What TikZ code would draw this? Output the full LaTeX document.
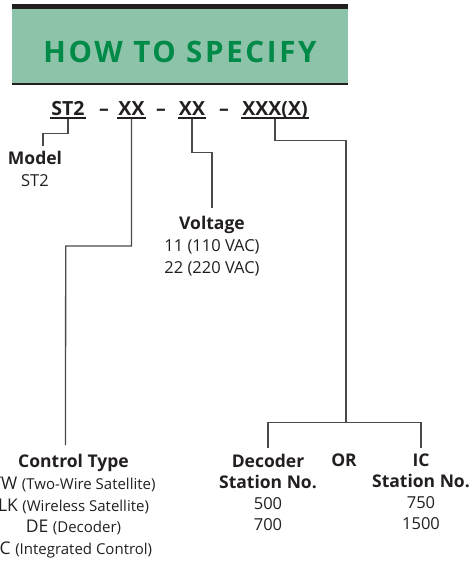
\documentclass[tikz,border=0pt]{standalone}
\usepackage{fontspec}
\setmainfont{Open Sans}
\usetikzlibrary{positioning, calc}
\definecolor{specgreen}{HTML}{8CC3A9}
\definecolor{spectitle}{HTML}{008A48}
\definecolor{specline}{HTML}{4A4A4A}
\definecolor{spectext}{HTML}{231F20}
\newcommand{\headfont}{\fontsize{17.5}{22}\selectfont\bfseries}
\newcommand{\descfont}{\fontsize{15}{21.75}\selectfont}
\tikzset{
    codepart/.style={font=\fontsize{19.5}{20}\selectfont\bfseries, text=spectext, inner xsep=1pt, inner ysep=4pt, text depth=0pt, anchor=base},
    dashpart/.style={font=\fontsize{19.5}{20}\selectfont\bfseries, text=spectext, inner sep=0pt, anchor=base},
    uline/.style={line width=2pt, spectext},
    conn/.style={line width=1.3pt, specline},
    label_block/.style={align=center, inner sep=0pt, anchor=north, text=spectext, font=\fontsize{16.5}{22}\selectfont}
}
\begin{document}
\begin{tikzpicture}[x=1pt, y=-1pt]
    \useasboundingbox (0,0) rectangle (473,562);

    % Header
    \fill[specgreen] (12,9) rectangle (348,83);
    \fill[spectext] (12,4) rectangle (348,9);
    \fill[spectext] (12,82.5) rectangle (348,85);
    \node[font=\fontsize{29.5}{30}\selectfont\bfseries\addfontfeature{LetterSpace=9}, text=spectitle, anchor=base] (title) at (180,62) {HOW TO SPECIFY};

    % Model code
    \node[codepart] (cST) at (68,115) {ST2};
    \node[dashpart] (d1) at (104,115) {--};
    \node[codepart] (cCT) at (131.5,115) {XX};
    \node[dashpart] (d2) at (161,115) {--};
    \node[codepart] (cV) at (192,115) {XX};
    \node[dashpart] (d3) at (224,115) {--};
    \node[codepart] (cSN) at (275,115) {XXX(X)};
    \foreach \c in {cST, cCT, cV, cSN}
        \draw[uline] ([yshift=1pt]\c.south west) -- ([yshift=1pt]\c.south east);

    % Labels
    \node[label_block] (model) at (35,151) {{\headfont Model}\\ST2};
    \node[label_block] (voltage) at (212,216) {{\headfont Voltage}\\11 (110 VAC)\\22 (220 VAC)};
    \node[label_block, font=\fontsize{17.5}{21.75}\selectfont] (ctype) at (73.5,454)
        {{\headfont Control Type}\\TW {\descfont(Two-Wire Satellite)}\\LK {\descfont(Wireless Satellite)}\\DE {\descfont(Decoder)}\\IC {\descfont(Integrated Control)}};
    \node[label_block, font=\fontsize{16.5}{21}\selectfont] (decoder) at (268,454) {{\headfont Decoder}\\{\headfont Station No.}\\500\\700};
    \node[label_block] (or) at (344,454) {\headfont OR};
    \node[label_block, font=\fontsize{16.5}{21}\selectfont] (icstation) at (421,454) {{\headfont IC}\\{\headfont Station No.}\\750\\1500};

    % Connectors
    \draw[conn] (cST.south) -- ++(0,14) -| ([xshift=8pt,yshift=5pt]model.north);
    \draw[conn] (cCT.south) |- (65.7,246) -- ([xshift=-8pt,yshift=9pt]ctype.north);
    \draw[conn] (cV.south) -- ++(0,33) -| ([yshift=8pt]voltage.north);
    \coordinate (split) at (346,422.7);
    \draw[conn] (cSN.south) -- ++(0,21) -| (split);
    \draw[conn] (split) -| ([yshift=6pt]decoder.north);
    \draw[conn] (split) -| ([yshift=6pt]icstation.north);
\end{tikzpicture}
\end{document}
